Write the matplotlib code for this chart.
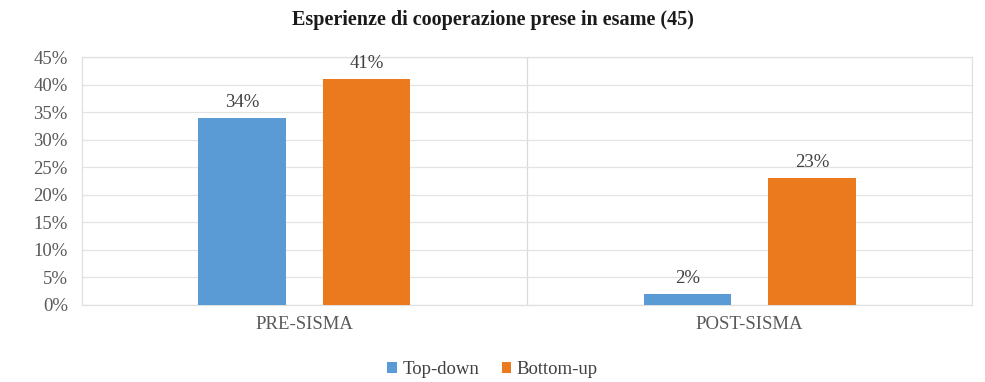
import numpy as np
import matplotlib
matplotlib.use("Agg")
import matplotlib.pyplot as plt
from matplotlib.ticker import FuncFormatter

categories = ["PRE-SISMA", "POST-SISMA"]
series_names = ["Top-down", "Bottom-up"]
top_down = [34, 2]
bottom_up = [41, 23]

BLUE = "#5B9BD5"
ORANGE = "#EB7A1E"

plt.rcParams['font.family'] = ['Liberation Serif', 'DejaVu Serif']

fig = plt.figure(figsize=(9.85, 3.82), dpi=100)
ax = fig.add_axes([0.083, 0.2016, 0.904, 0.649])

x = np.arange(len(categories))
width = 0.196
offset = 0.14

b1 = ax.bar(x - offset, top_down, width, color=BLUE, label=series_names[0], zorder=3)
b2 = ax.bar(x + offset, bottom_up, width, color=ORANGE, label=series_names[1], zorder=3)

for bars, vals in ((b1, top_down), (b2, bottom_up)):
    for rect, v in zip(bars, vals):
        ax.text(rect.get_x() + rect.get_width() / 2, v + 1.3, "{}%".format(v),
                ha='center', va='bottom', fontsize=13.5, color='#404040')

ax.set_xlim(-0.5, len(categories) - 0.5)
ax.set_ylim(0, 45)
ax.set_yticks(np.arange(0, 46, 5))
ax.yaxis.set_major_formatter(FuncFormatter(lambda v, p: "{:.0f}%".format(v)))
ax.set_xticks(x)
ax.set_xticklabels(categories)
ax.tick_params(axis='both', length=0, labelsize=13.5, colors='#595959')
ax.tick_params(axis='x', pad=8)
ax.tick_params(axis='y', pad=10)

ax.grid(axis='y', color='#e3e3e3', linewidth=0.9, zorder=0)
for i in range(len(categories) - 1):
    ax.axvline(i + 0.5, color='#d9d9d9', linewidth=0.9, zorder=1)
for s in ax.spines.values():
    s.set_color('#e0e0e0')
    s.set_linewidth(0.9)

fig.suptitle("Esperienze di cooperazione prese in esame (45)", y=0.975,
             fontsize=14.5, fontweight='bold', color='#1a1a1a')

fig.legend(handles=[b1, b2], loc='lower center', ncol=2, frameon=False,
           bbox_to_anchor=(0.5, -0.035), fontsize=13.5, handlelength=0.5,
           handleheight=0.5, handletextpad=0.3, columnspacing=1.2,
           labelcolor='#404040')

fig.savefig("out.png", dpi=100)
